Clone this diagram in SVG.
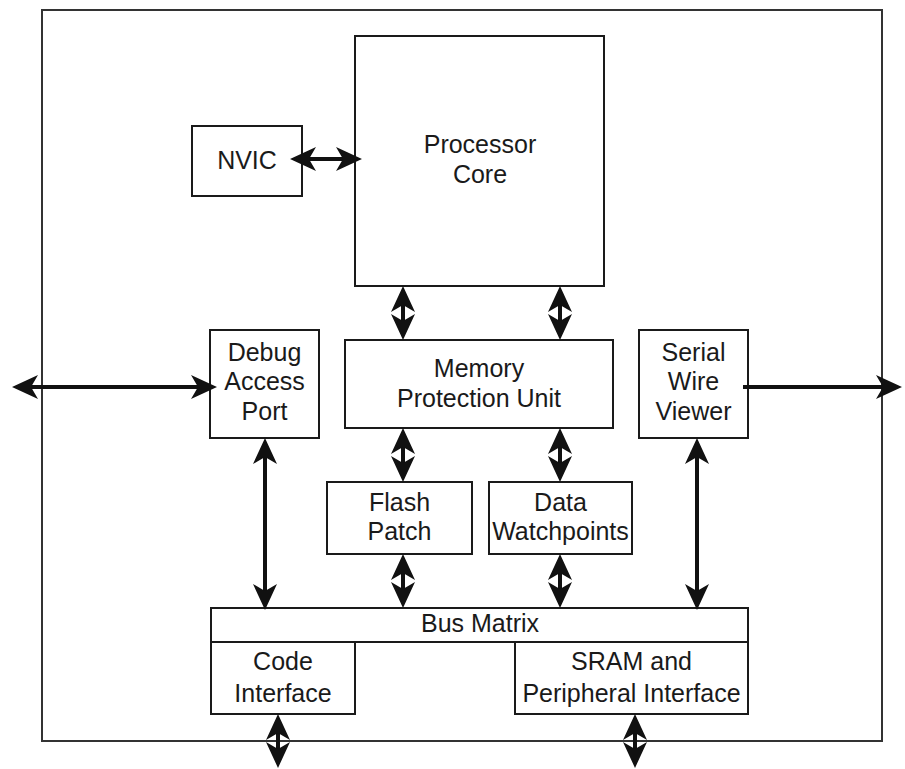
<svg xmlns="http://www.w3.org/2000/svg" width="905" height="769" viewBox="0 0 905 769">
<style>
.box{fill:#fff;stroke:#1a1a1a;stroke-width:2}
.frame{fill:none;stroke:#333;stroke-width:2}
.lbl{font-family:"Liberation Sans",Arial,sans-serif;font-size:25px;fill:#1a1a1a;text-anchor:middle}
.c{fill:none;stroke:#111;stroke-width:4;marker-end:url(#ah)}
.d{marker-start:url(#ah)}
</style>
<defs>
<marker id="ah" viewBox="0 -12 26 24" refX="15" refY="0" markerWidth="26" markerHeight="24" markerUnits="userSpaceOnUse" orient="auto-start-reverse" overflow="visible">
<path d="M0,-12 L26,0 L0,12 L7,0 Z" fill="#111"/>
</marker>
</defs>
<rect class="frame" x="42" y="10" width="840" height="731"/>
<g id="core"><rect class="box" x="355" y="36" width="249" height="250"/><text class="lbl" x="480" y="153">Processor</text><text class="lbl" x="480" y="183">Core</text></g>
<g id="nvic"><rect class="box" x="192" y="126" width="110" height="70"/><text class="lbl" x="247" y="169">NVIC</text></g>
<g id="dap"><rect class="box" x="210" y="330" width="109" height="108"/><text class="lbl" x="264.5" y="361">Debug</text><text class="lbl" x="264.5" y="390">Access</text><text class="lbl" x="264.5" y="420">Port</text></g>
<g id="mpu"><rect class="box" x="345" y="340" width="268" height="88"/><text class="lbl" x="479" y="377">Memory</text><text class="lbl" x="479" y="407">Protection Unit</text></g>
<g id="swv"><rect class="box" x="639" y="330" width="109" height="108"/><text class="lbl" x="693.5" y="361">Serial</text><text class="lbl" x="693.5" y="390">Wire</text><text class="lbl" x="693.5" y="420">Viewer</text></g>
<g id="flash"><rect class="box" x="327" y="482" width="145" height="72"/><text class="lbl" x="399.5" y="511">Flash</text><text class="lbl" x="399.5" y="540">Patch</text></g>
<g id="dwt"><rect class="box" x="489" y="482" width="143" height="72"/><text class="lbl" x="560.5" y="511">Data</text><text class="lbl" x="560.5" y="540">Watchpoints</text></g>
<g id="bus"><rect class="box" x="211" y="608" width="537" height="34"/><text class="lbl" x="480" y="632">Bus Matrix</text></g>
<g id="code"><rect class="box" x="211" y="642" width="144" height="72"/><text class="lbl" x="283" y="670">Code</text><text class="lbl" x="283" y="702">Interface</text></g>
<g id="sram"><rect class="box" x="515" y="642" width="233" height="72"/><text class="lbl" x="631.5" y="670">SRAM and</text><text class="lbl" x="631.5" y="702">Peripheral Interface</text></g>
<g id="connectors">
<line class="c d" x1="301" y1="159" x2="351" y2="159"/>
<line class="c d" x1="23" y1="387" x2="206" y2="387"/>
<line class="c" x1="743" y1="387" x2="891" y2="387"/>
<line class="c d" x1="403" y1="297" x2="403" y2="329"/>
<line class="c d" x1="560" y1="297" x2="560" y2="329"/>
<line class="c d" x1="403" y1="439" x2="403" y2="471"/>
<line class="c d" x1="560" y1="439" x2="560" y2="471"/>
<line class="c d" x1="265" y1="449" x2="265" y2="599"/>
<line class="c d" x1="403" y1="565" x2="403" y2="597"/>
<line class="c d" x1="560" y1="565" x2="560" y2="597"/>
<line class="c d" x1="697" y1="449" x2="697" y2="599"/>
<line class="c d" x1="278" y1="725" x2="278" y2="757"/>
<line class="c d" x1="635" y1="725" x2="635" y2="757"/>
</g>
</svg>
